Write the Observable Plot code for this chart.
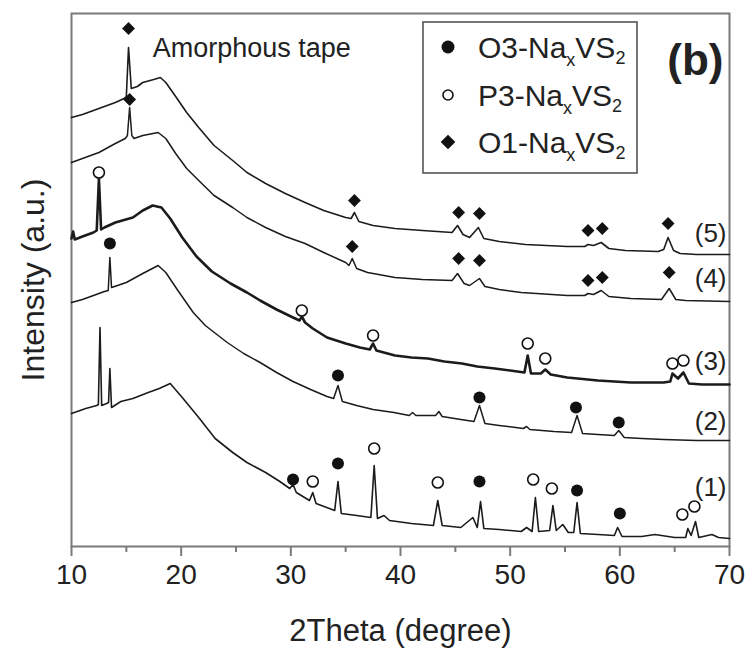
<!DOCTYPE html>
<html><head><meta charset="utf-8">
<script src="https://cdn.jsdelivr.net/npm/d3@7"></script>
<script src="https://cdn.jsdelivr.net/npm/@observablehq/plot@0.6"></script>
<style>body{margin:0;background:#fff;} #chart{width:749px;height:650px;}</style>
</head><body><div id="chart"></div>
<script>
const FONT = "Liberation Sans, Arial, Helvetica, sans-serif";

// XRD traces: [2theta (degree), intensity (a.u., offset stacked)]
const trace5 = [[10.0,429],[11.0,432],[12.0,436],[13.0,440],[14.0,444],[14.8,448],[15.0,450],[15.2,499],[15.45,458],[16.0,460],[16.5,464],[17.5,467],[18.1,469],[18.6,464],[19.5,450],[20.5,434],[21.6,419],[23.0,401],[24.7,386],[26.0,374],[27.7,363],[29.5,353],[31.3,344],[33.0,336],[35.0,329],[35.5,328],[35.8,334],[36.2,325],[37.5,321],[39.5,318],[42.0,316],[44.7,314],[45.2,321],[45.7,312],[46.3,309],[47.1,319],[47.6,308],[49.0,305],[51.4,302],[55.2,300],[56.8,300],[57.1,302],[57.6,301],[58.3,304],[59.0,298],[60.5,296],[63.5,295],[64.0,297],[64.4,309],[64.9,296],[65.5,293],[67.0,292],[70.0,292]];
const trace4 = [[10.0,384],[11.0,388],[12.5,394],[14.0,403],[14.9,408],[15.1,411],[15.3,439],[15.5,411],[15.7,408],[16.5,411],[17.9,414],[18.6,408],[19.5,393],[20.5,378],[21.6,366],[23.0,351],[24.7,339],[26.0,329],[27.7,319],[29.5,310],[31.3,303],[33.0,294],[35.0,284],[35.3,281],[35.6,288],[36.0,278],[37.0,274],[39.5,269],[42.0,267],[44.7,266],[45.2,273],[45.8,263],[46.3,261],[47.2,268],[47.7,260],[49.0,257],[51.0,254],[55.2,251],[56.8,251],[57.1,253],[57.6,252],[58.3,256],[59.0,250],[61.0,248],[63.8,247],[64.5,258],[65.1,247],[66.0,246],[70.0,245]];
const trace3 = [[10.0,308],[10.15,315],[10.3,307],[11.0,310],[12.0,314],[12.3,316],[12.5,368],[12.7,317],[13.0,319],[14.0,324],[15.6,329],[16.5,336],[17.4,341],[18.2,339],[19.0,328],[20.1,309],[21.4,290],[22.8,275],[24.5,263],[26.0,254],[27.2,246],[28.7,237],[30.2,229],[30.8,226],[31.0,230],[31.3,224],[32.0,218],[33.3,209],[35.0,203],[36.3,199],[37.2,197],[37.5,203],[37.8,196],[39.5,191],[41.0,189],[42.5,188],[44.0,185],[45.6,183],[47.0,180],[48.6,178],[50.0,176],[51.3,174],[51.6,191],[51.9,173],[52.8,173],[53.2,177],[53.7,172],[55.2,169],[58.0,166],[61.0,164],[64.0,164],[64.6,165],[64.8,173],[65.3,168],[65.8,174],[66.3,163],[67.5,162],[70.0,162]];
const trace2 = [[10.0,244],[11.0,247],[12.0,251],[13.0,255],[13.35,256],[13.5,289],[13.65,259],[14.2,261],[15.0,264],[16.5,273],[17.9,281],[18.6,274],[19.7,256],[21.1,234],[22.2,221],[24.2,204],[25.7,193],[27.2,184],[28.7,174],[30.2,165],[31.8,157],[33.3,150],[33.9,148],[34.3,161],[34.7,145],[36.0,141],[37.5,137],[39.4,134],[40.8,131],[41.1,134],[41.4,131],[43.2,131],[43.5,135],[43.8,130],[45.5,127],[46.7,125],[47.2,141],[47.7,123],[49.0,121],[51.2,118],[51.5,120],[51.8,117],[54.0,115],[55.6,114],[56.1,131],[56.6,113],[58.0,112],[59.5,111],[59.9,116],[60.4,109],[62.0,108],[64.0,107],[67.0,106],[70.0,106]];
const trace1 = [[10.0,133],[11.3,138],[12.3,141],[12.45,142],[12.6,219],[12.75,141],[13.2,143],[13.38,144],[13.5,178],[13.65,139],[14.5,145],[15.6,148],[17.0,154],[18.0,158],[19.0,163],[20.1,149],[21.6,129],[23.1,108],[24.7,94],[26.0,84],[27.7,74],[29.0,65],[29.9,58],[30.2,62],[30.5,54],[31.7,46],[32.0,54],[32.3,43],[34.0,36],[34.3,65],[34.6,33],[36.0,31],[37.3,29],[37.6,81],[37.9,28],[38.5,31],[39.0,26],[41.0,23],[43.0,21],[43.4,46],[43.8,21],[45.5,19],[46.6,29],[47.0,19],[47.3,45],[47.6,18],[49.0,17],[51.0,15],[51.5,19],[52.0,15],[52.3,49],[52.6,15],[53.6,16],[53.9,41],[54.2,16],[54.8,22],[55.3,14],[55.8,14],[56.1,44],[56.4,13],[58.0,12],[59.5,11],[59.8,19],[60.2,10],[62.0,10],[63.2,12],[65.0,9],[66.0,9],[66.2,18],[66.5,11],[66.9,25],[67.2,9],[68.4,12],[69.0,9],[70.0,8]];

// Phase markers: [2theta, intensity]
const o3Markers = [[13.5,303],[34.3,171],[47.2,149],[56.0,139],[59.9,124],[30.2,67],[34.3,83],[47.2,65],[56.1,56],[60.0,33]];
const p3Markers = [[12.5,374],[31.0,236],[37.5,211],[51.6,203],[53.2,188],[64.8,183],[65.8,186],[32.0,65],[37.6,98],[43.4,64],[52.1,67],[53.8,58],[65.7,32],[66.8,40]];
const o1Markers = [[15.2,518],[35.8,346],[45.3,334],[47.2,333],[57.1,316],[58.4,318],[64.4,323],[15.3,447],[35.6,300],[45.3,288],[47.2,286],[57.1,266],[58.4,269],[64.5,274]];

const traceLabels = ["(5)","(4)","(3)","(2)","(1)"];
const traceLabelY = [313,268,185,125,59];
const majorTicks = [10,20,30,40,50,60,70];
const minorTicks = [15,25,35,45,55,65];
const legendNames = ["O3", "P3", "O1"];

const toRows = a => a.map(([x,y]) => ({x,y}));
const INK = "#1b1b1b";

const plot = Plot.plot({
  width: 749, height: 650,
  marginLeft: 71, marginRight: 20, marginTop: 13, marginBottom: 104,
  x: {domain: [10,70]},
  y: {domain: [0,533], axis: null},
  style: {fontFamily: FONT, background: "white", color: "#222", overflow: "visible"},
  marks: [
    Plot.frame({stroke: "#7a7a7a", strokeWidth: 2}),
    Plot.axisX({ticks: minorTicks, tickSize: 6, text: null, stroke: "#7a7a7a", strokeWidth: 2, label: null}),
    Plot.axisX({ticks: majorTicks, tickSize: 10, tickPadding: 8, fontSize: 28, stroke: "#7a7a7a", strokeWidth: 2, tickFormat: d => String(d), label: null, fill: "#222"}),
    Plot.text(["2Theta (degree)"], {frameAnchor: "bottom", lineAnchor: "bottom", dy: 94, fontSize: 31, fill: "#222"}),
    Plot.text(["Intensity (a.u.)"], {frameAnchor: "left", textAnchor: "middle", lineAnchor: "middle", rotate: -90, dx: -38, fontSize: 32, fill: "#222"}),
    Plot.line(toRows(trace1), {x: "x", y: "y", stroke: INK, strokeWidth: 1.6}),
    Plot.line(toRows(trace2), {x: "x", y: "y", stroke: INK, strokeWidth: 1.5}),
    Plot.line(toRows(trace3), {x: "x", y: "y", stroke: INK, strokeWidth: 2.6}),
    Plot.line(toRows(trace4), {x: "x", y: "y", stroke: INK, strokeWidth: 1.5}),
    Plot.line(toRows(trace5), {x: "x", y: "y", stroke: INK, strokeWidth: 1.6}),
    Plot.dot(toRows(o3Markers), {x: "x", y: "y", r: 6, fill: "#111", stroke: "none"}),
    Plot.dot(toRows(p3Markers), {x: "x", y: "y", r: 5.5, fill: "white", stroke: "#111", strokeWidth: 1.6}),
    Plot.dot(toRows(o1Markers), {x: "x", y: "y", symbol: "diamond2", r: 5.8, fill: "#111", stroke: "none"}),
    Plot.text(traceLabels.map((t,i) => ({t, y: traceLabelY[i]})), {frameAnchor: "right", y: "y", text: "t", textAnchor: "end", lineAnchor: "middle", dx: -3, fontSize: 26, fill: "#222"}),
    Plot.text([{x: 17.4, y: 498, t: "Amorphous tape"}], {x: "x", y: "y", text: "t", textAnchor: "start", lineAnchor: "middle", fontSize: 27, fill: "#222"}),
    Plot.text(["(b)"], {frameAnchor: "top-right", dx: -6, dy: 47, textAnchor: "end", lineAnchor: "middle", fontSize: 44, fontWeight: "bold", fill: "#222"})
  ]
});
document.getElementById("chart").appendChild(plot);

// Legend box (inside the plot frame)
const svg = d3.select(plot);
const lg = svg.append("g").attr("font-family", FONT).attr("fill", "#222").attr("text-anchor", "start");
lg.append("rect").attr("x", 423).attr("y", 22).attr("width", 214).attr("height", 151)
  .attr("fill", "white").attr("stroke", "#555").attr("stroke-width", 1.6);
const rowsY = [47, 95, 142];
legendNames.forEach((name, i) => {
  const cy = rowsY[i];
  if (i === 0) lg.append("circle").attr("cx", 448).attr("cy", cy).attr("r", 6.5).attr("fill", "#111");
  if (i === 1) lg.append("circle").attr("cx", 448).attr("cy", cy).attr("r", 5).attr("fill", "white").attr("stroke", "#111").attr("stroke-width", 1.6);
  if (i === 2) lg.append("path").attr("transform", `translate(448,${cy})`).attr("d", d3.symbol(d3.symbolDiamond2, Math.PI * 6.6 * 6.6)()).attr("fill", "#111");
  const t = lg.append("text").attr("x", 478).attr("y", cy + 11).attr("font-size", 30).attr("text-anchor", "start");
  t.append("tspan").text(name + "-Na");
  t.append("tspan").attr("font-size", 18).attr("dy", 8).text("x");
  t.append("tspan").attr("font-size", 30).attr("dy", -8).text("VS");
  t.append("tspan").attr("font-size", 18).attr("dy", 6).text("2");
});
</script></body></html>
